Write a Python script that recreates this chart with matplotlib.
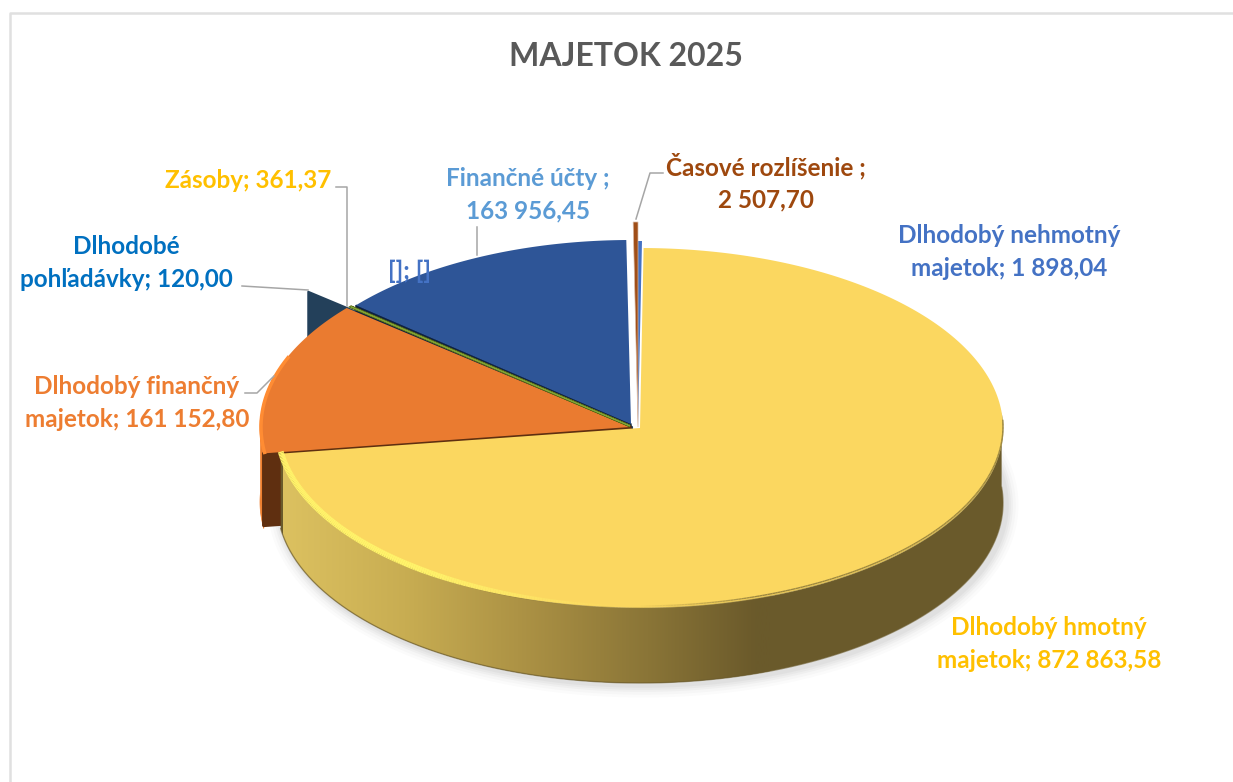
import numpy as np
import matplotlib
matplotlib.use("Agg")
import matplotlib.pyplot as plt
from matplotlib.collections import LineCollection
from matplotlib.colors import LinearSegmentedColormap, to_rgb
from matplotlib.patches import Polygon

plt.rcParams['font.family'] = ['Lato', 'DejaVu Sans']

title = 'MAJETOK 2025'

# clockwise from twelve o'clock, as in the workbook
categories = ['Dlhodobý nehmotný majetok', 'Dlhodobý hmotný majetok',
              'Dlhodobý finančný majetok', 'Dlhodobé pohľadávky', 'Zásoby',
              'Finančné účty', 'Časové rozlíšenie']
values = [1898.04, 872863.58, 161152.80, 120.00, 361.37, 163956.45, 2507.70]

labels = ['Dlhodobý nehmotný\nmajetok; 1 898,04',
          'Dlhodobý hmotný\nmajetok; 872 863,58',
          'Dlhodobý finančný\nmajetok; 161 152,80',
          'Dlhodobé\npohľadávky; 120,00',
          'Zásoby; 361,37',
          'Finančné účty ;\n163 956,45',
          'Časové rozlíšenie ;\n2 507,70']

# styles, one entry per slice
top_colors = ['#4472c4', '#fbd760', '#ea7b30', '#23405a', '#6f9a35', '#2e5597', '#a04e17']
label_colors = ['#4472c4', '#ffc000', '#ed7d31', '#0070c0', '#ffc000', '#5b9bd5', '#9e480e']
label_pos = [(1009, 252), (1049, 644), (137, 403), (126, 263), (248, 181), (528, 195), (766, 182)]
centers = [(638, 427), (640, 428), (630, 427), (632, 427), (630, 426), (631, 424), (638, 427)]
radii = [(363, 186), (363, 180), (370, 185), (423, 210), (365, 185), (360, 184), (370, 205)]
depth = 75

leaders = [[(336, 187), (347, 187), (347, 306)],
           [(242, 286), (308, 290)],
           [(245, 393), (257, 393), (274, 376)],
           [(477, 227), (477, 255)],
           [(663, 173), (650, 173), (636, 219)]]

angles = np.r_[0, np.cumsum(values)] / np.sum(values) * 360


def arc(i, a0, a1, n=300, shift=0):
    t = np.radians(np.linspace(a0, a1, n))
    cx, cy = centers[i]
    rx, ry = radii[i]
    return np.c_[cx + rx * np.sin(t), cy - ry * np.cos(t) + shift]


def top(i):
    return np.vstack([centers[i], arc(i, angles[i], angles[i + 1])])


def wall(i, a0, a1):
    return np.vstack([arc(i, a0, a1), arc(i, a1, a0, shift=depth)])


def radial_wall(i, a, d=depth):
    # flat cut face of a slice, from the centre out to the rim
    o = arc(i, a, a, n=1)[0]
    c = np.array(centers[i], float)
    return np.array([c, o, o + [0, d], c + [0, d]])


fig = plt.figure(figsize=(12.33, 7.82), dpi=100)
ax = fig.add_axes([0, 0, 1, 1])
ax.set_xlim(0, 1233)
ax.set_ylim(782, 0)
ax.axis('off')

# chart frame, runs off the right and bottom of the crop
ax.plot([10, 10, 1240], [790, 12.5, 12.5], color='#e0e0e0', lw=1.8, zorder=1)

# soft shadow under the yellow slice
shadow = wall(1, 60, 265)[300:]
for w, al in zip([18, 14, 10, 7, 4], [.03, .04, .05, .06, .07]):
    ax.plot(shadow[:, 0] + 3, shadow[:, 1] + 2, color='#808080', lw=w, alpha=al,
            solid_capstyle='round', zorder=1.5)

# thin slice behind everything, only its cut face shows
ax.add_patch(Polygon(radial_wall(3, angles[4]), fc='#23405a', ec='#23405a', lw=1.5,
                     joinstyle='round', zorder=2))
ax.add_patch(Polygon(radial_wall(5, angles[5]), fc='#0e2240', ec='#0e2240', lw=1, zorder=2.1))

# orange slice, rim and cut face
ax.add_patch(Polygon(wall(2, angles[2], 273), fc='#ee8030', ec='#ee8030', lw=.5, zorder=2.2))
ax.add_patch(Polygon(radial_wall(2, angles[2], d=72), fc='#5f2f10', ec='#5f2f10', lw=2.5,
                     joinstyle='round', zorder=2.3))
ax.add_patch(Polygon(top(2), fc=top_colors[2], ec='none', zorder=2.4))
rim = arc(2, angles[2] + .3, 292)
ax.plot(rim[:, 0] + 1, rim[:, 1], color='#ff8c33', lw=2.5, zorder=2.5)

# green sliver and the dark blue slice
ax.add_patch(Polygon(top(4), fc=top_colors[4], ec='#5d6a12', lw=1.8, zorder=2.6))
ax.add_patch(Polygon(top(4), fc=top_colors[4], ec='#7fa53a', lw=.6, zorder=2.65))
ax.add_patch(Polygon(top(5), fc=top_colors[5], ec='none', zorder=2.7))

# yellow side wall, shaded left to right
side = Polygon(wall(1, 85, angles[2]), fc='none', ec='none', transform=ax.transData)
ax.add_patch(side)
stops = [(0, '#dcc160'), (.25, '#c8ad52'), (.5, '#ab9144'), (.75, '#8a7537'), (.97, '#6b5a2b'), (1, '#6a5a2b')]
shade = LinearSegmentedColormap.from_list('side', stops)
im = ax.imshow(np.linspace(0, 1, 256)[None, :], extent=[283, 770, 782, 0], cmap=shade,
               aspect='auto', interpolation='bilinear', zorder=3)
im.set_clip_path(side)
right = Polygon(wall(1, 85, angles[2]), fc='#6a5a2b', ec='none', zorder=2.95)
ax.add_patch(right)
bottom = arc(1, 85, angles[2], shift=depth)
ax.plot(bottom[:, 0], bottom[:, 1], color='#6a5a2b', lw=1, alpha=.6, zorder=3.1)

# yellow top
ax.add_patch(Polygon(top(1), fc=top_colors[1], ec='none', zorder=3.2))

# bevel along the rim: bright on the lower left, dark blur on the right
rim = arc(1, 88, angles[2], n=400)
seg = np.stack([rim[:-1], rim[1:]], axis=1)
lit = np.clip((620 - rim[:-1, 0]) / 200, 0, 1)
base = np.array(to_rgb(top_colors[1]))
hi = np.array(to_rgb('#fff36a'))
lo = np.array(to_rgb('#9c8740'))
dark = np.clip((rim[:-1, 0] - 640) / 120, 0, 1)[:, None]
cols = base + (hi - base) * lit[:, None] * (1 - dark) + (lo - base) * dark
ax.add_collection(LineCollection(seg - [0, 2], colors=cols, linewidths=1 + 3.2 * lit, zorder=3.3))
ax.add_collection(LineCollection(seg, colors=[lo * .95], linewidths=.8, alpha=.55, zorder=3.25))

# the two narrow slices at the top
ax.add_patch(Polygon(top(0), fc=top_colors[0], ec='none', zorder=2.8))
ax.add_patch(Polygon(top(6), fc=top_colors[6], ec='#d9b9a4', lw=.5, zorder=2.9))

# leader lines
for pts in leaders:
    pts = np.array(pts)
    ax.plot(pts[:, 0], pts[:, 1], color='#a6a6a6', lw=1.1, zorder=4)

# texts
ax.text(626, 57, title, ha='center', va='center', fontsize=23, fontweight='bold',
        color='#595959', zorder=5)
for lab, col, (x, y) in zip(labels, label_colors, label_pos):
    ax.text(x, y, lab, ha='center', va='center', fontsize=17.5, fontweight='bold',
            color=col, linespacing=1.5, zorder=5)
ax.text(410, 271, '[]; []', ha='center', va='center', fontsize=17.5, fontweight='bold',
        color='#4472c4', zorder=5)

fig.savefig('out.png', dpi=100)
